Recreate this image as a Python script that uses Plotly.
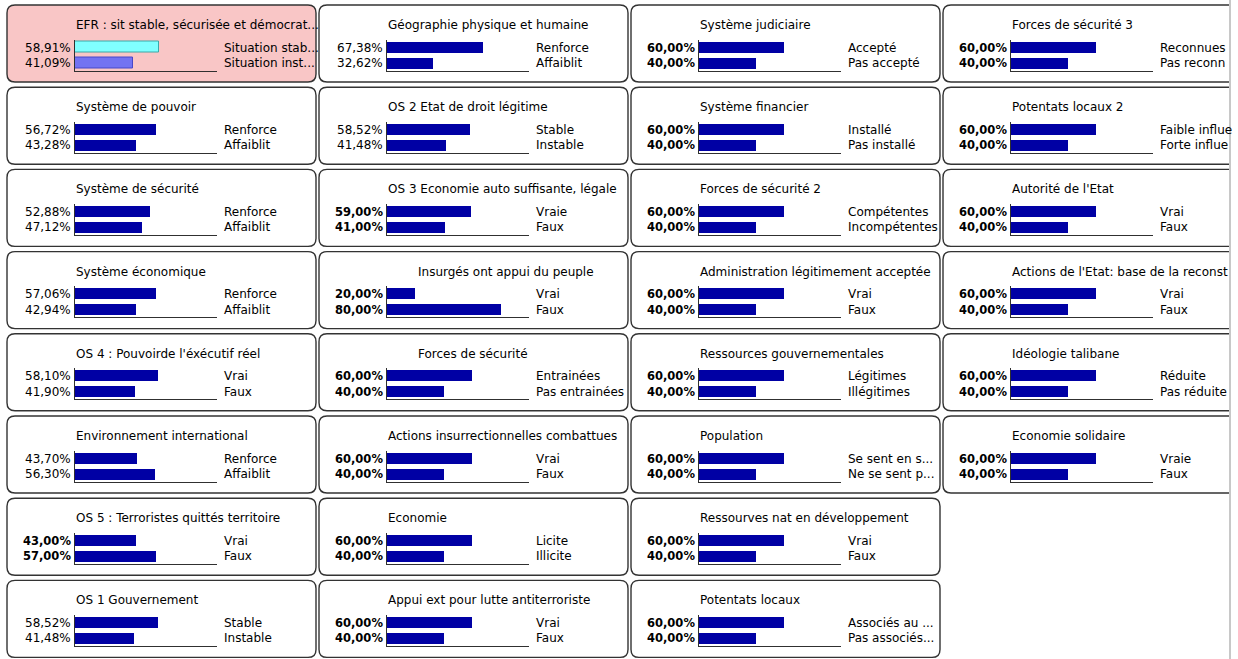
import plotly.graph_objects as go

# ---------------- data (column-major: 4 columns of node boxes) ----------------
titles = [
    # column 1
    "EFR : sit stable, sécurisée et démocrat...", "Système de pouvoir", "Système de sécurité",
    "Système économique", "OS 4 : Pouvoirde l'éxécutif réel", "Environnement international",
    "OS 5 : Terroristes quittés territoire", "OS 1 Gouvernement",
    # column 2
    "Géographie physique et humaine", "OS 2 Etat de droit légitime",
    "OS 3 Economie auto suffisante, légale", "Insurgés ont appui du peuple", "Forces de sécurité",
    "Actions insurrectionnelles combattues", "Economie", "Appui ext pour lutte antiterroriste",
    # column 3
    "Système judiciaire", "Système financier", "Forces de sécurité 2",
    "Administration légitimement acceptée", "Ressources gouvernementales", "Population",
    "Ressourves nat en développement", "Potentats locaux",
    # column 4
    "Forces de sécurité 3", "Potentats locaux 2", "Autorité de l'Etat",
    "Actions de l'Etat: base de la reconst", "Idéologie talibane", "Economie solidaire",
]
prob_state1 = [58.91, 56.72, 52.88, 57.06, 58.10, 43.70, 43.00, 58.52,
               67.38, 58.52, 59.00, 20.00, 60.00, 60.00, 60.00, 60.00,
               60.00, 60.00, 60.00, 60.00, 60.00, 60.00, 60.00, 60.00,
               60.00, 60.00, 60.00, 60.00, 60.00, 60.00]
prob_state2 = [41.09, 43.28, 47.12, 42.94, 41.90, 56.30, 57.00, 41.48,
               32.62, 41.48, 41.00, 80.00, 40.00, 40.00, 40.00, 40.00,
               40.00, 40.00, 40.00, 40.00, 40.00, 40.00, 40.00, 40.00,
               40.00, 40.00, 40.00, 40.00, 40.00, 40.00]
state1 = ["Situation stab...", "Renforce", "Renforce", "Renforce", "Vrai", "Renforce", "Vrai", "Stable",
          "Renforce", "Stable", "Vraie", "Vrai", "Entrainées", "Vrai", "Licite", "Vrai",
          "Accepté", "Installé", "Compétentes", "Vrai", "Légitimes", "Se sent en s...", "Vrai", "Associés au ...",
          "Reconnues", "Faible influe", "Vrai", "Vrai", "Réduite", "Vraie"]
state2 = ["Situation inst...", "Affaiblit", "Affaiblit", "Affaiblit", "Faux", "Affaiblit", "Faux", "Instable",
          "Affaiblit", "Instable", "Faux", "Faux", "Pas entrainées", "Faux", "Illicite", "Faux",
          "Pas accepté", "Pas installé", "Incompétentes", "Faux", "Illégitimes", "Ne se sent p...", "Faux", "Pas associés...",
          "Pas reconn", "Forte influe", "Faux", "Faux", "Pas réduite", "Faux"]
nodes_per_column = [8, 8, 8, 6]

# ---------------- styling / layout ----------------
W, H = 1238, 659
COL_X0, COL_PITCH, BOX_W = 7, 312, 309
ROW_Y0, ROW_PITCH, BOX_H = 5, 82.2, 77
RADIUS = 8
FONT = "DejaVu Sans"
normal_pct = {0, 1, 2, 3, 4, 5, 7, 8, 9}          # nodes shown with plain percentages
title_indent = {11: 30, 12: 30}                   # a couple of titles drawn further right
BLUE = "#0000A4"


def px(x):
    return x / W


def py(y):
    return 1 - y / H


def rrect(x0, y0, x1, y1, r):
    pts = [
        f"M {px(x0 + r)},{py(y0)}", f"L {px(x1 - r)},{py(y0)}", f"Q {px(x1)},{py(y0)} {px(x1)},{py(y0 + r)}",
        f"L {px(x1)},{py(y1 - r)}", f"Q {px(x1)},{py(y1)} {px(x1 - r)},{py(y1)}",
        f"L {px(x0 + r)},{py(y1)}", f"Q {px(x0)},{py(y1)} {px(x0)},{py(y1 - r)}",
        f"L {px(x0)},{py(y0 + r)}", f"Q {px(x0)},{py(y0)} {px(x0 + r)},{py(y0)}", "Z",
    ]
    return " ".join(pts)


fig = go.Figure()
shapes, annotations = [], []
layout_axes = {}

i = 0
for c, n in enumerate(nodes_per_column):
    for r in range(n):
        L = COL_X0 + c * COL_PITCH
        T = ROW_Y0 + r * ROW_PITCH
        first = (i == 0)
        shapes.append(dict(type="path", path=rrect(L, T, L + BOX_W, T + BOX_H, RADIUS),
                           xref="paper", yref="paper", layer="below",
                           fillcolor="#F9C6C6" if first else "white",
                           line=dict(color="#333333", width=1.4)))
        k = i + 1
        xa, ya = f"x{k}", f"y{k}"
        xkey = "xaxis" if k == 1 else f"xaxis{k}"
        ykey = "yaxis" if k == 1 else f"yaxis{k}"
        y_top, y_bot = T + 34.5, T + 65.5
        layout_axes[xkey] = dict(domain=[px(L + 68), px(L + 210)], range=[0, 100], anchor=ya,
                                 showgrid=False, zeroline=False, showticklabels=False, ticks="",
                                 showline=True, linecolor="#303030", linewidth=1, fixedrange=True)
        layout_axes[ykey] = dict(domain=[py(y_bot), py(y_top)], range=[1.5, -0.5], anchor=xa,
                                 showgrid=False, zeroline=False, showticklabels=False, ticks="",
                                 showline=True, linecolor="#303030", linewidth=1, fixedrange=True)
        if first:
            colors = ["#80FFFF", "#7373F2"]
            lcol = ["#3AA8A8", "#4848C8"]
            lw = 1
        else:
            colors = [BLUE, BLUE]
            lcol = [BLUE, BLUE]
            lw = 0
        fig.add_trace(go.Bar(x=[prob_state1[i], prob_state2[i]], y=[0, 1], orientation="h",
                             width=0.72, xaxis=xa, yaxis=ya, showlegend=False,
                             marker=dict(color=colors, line=dict(color=lcol, width=lw)),
                             hoverinfo="skip"))
        # texts
        annotations.append(dict(text=titles[i], x=px(L + 67 + title_indent.get(i, 0)), y=py(T + 20),
                                xref="paper", yref="paper", xanchor="left", yanchor="middle",
                                showarrow=False, font=dict(family=FONT, size=12, color="black")))
        if i in normal_pct:
            pfont = dict(family=FONT, size=12, color="black")
        else:
            pfont = dict(family=FONT, size=11.5, color="black", weight="bold")
        for j, (p, s) in enumerate([(prob_state1[i], state1[i]), (prob_state2[i], state2[i])]):
            yc = T + 42.5 + j * 15.5
            annotations.append(dict(text=f"{p:.2f}%".replace(".", ","), x=px(L + 66), y=py(yc),
                                    xref="paper", yref="paper", xanchor="right", yanchor="middle",
                                    showarrow=False, font=pfont))
            annotations.append(dict(text=s, x=px(L + 215), y=py(yc),
                                    xref="paper", yref="paper", xanchor="left", yanchor="middle",
                                    showarrow=False, font=dict(family=FONT, size=12, color="black")))
        i += 1

# window clipping on the right
shapes.append(dict(type="rect", xref="paper", yref="paper", x0=px(1229), x1=1, y0=0, y1=1,
                   fillcolor="white", line=dict(width=0), layer="above"))
shapes.append(dict(type="line", xref="paper", yref="paper", x0=px(1230), x1=px(1230), y0=0, y1=1,
                   line=dict(color="#C8C8C8", width=2), layer="above"))

fig.update_layout(width=W, height=H, margin=dict(l=0, r=0, t=0, b=0),
                  paper_bgcolor="white", plot_bgcolor="rgba(0,0,0,0)",
                  shapes=shapes, annotations=annotations, showlegend=False, bargap=0,
                  **layout_axes)
fig.write_html("out.html", config={"displayModeBar": False},
               post_script="document.body.style.margin='0';document.body.style.overflow='hidden';")
